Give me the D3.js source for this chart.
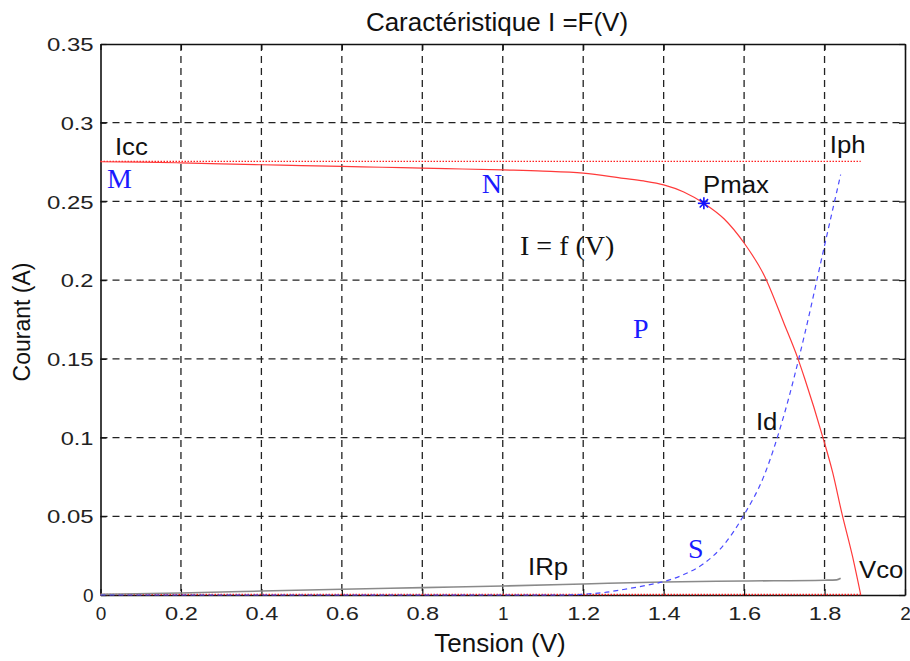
<!DOCTYPE html>
<html>
<head>
<meta charset="utf-8">
<script src="https://cdn.jsdelivr.net/npm/d3@7"></script>
<style>
  html, body { margin: 0; padding: 0; background: #fff; }
  svg { display: block; }
  text { font-family: "Liberation Sans", Arial, sans-serif; }
  .serif { font-family: "Liberation Serif", "Times New Roman", serif; }
</style>
</head>
<body>
<script>
// Tension (V) and courant (A) of the I = f(V) characteristic
const ivVolt = [0, 0.1, 0.2, 0.3, 0.4, 0.5, 0.6, 0.7, 0.8, 0.9, 1.0, 1.1, 1.2, 1.3, 1.35, 1.4, 1.45, 1.5, 1.55, 1.6, 1.65, 1.7, 1.734, 1.75, 1.796, 1.82, 1.843, 1.87, 1.89];
const ivCurr = [0.2752, 0.2750, 0.2745, 0.2738, 0.2733, 0.2728, 0.2723, 0.2717, 0.2712, 0.2706, 0.2700, 0.2693, 0.2680, 0.2647, 0.2630, 0.2605, 0.2560, 0.2488, 0.2390, 0.2236, 0.2030, 0.1720, 0.1500, 0.1380, 0.1000, 0.0780, 0.0520, 0.0240, 0.0000];

// Diode current Id
const idVolt = [0, 0.5, 1.0, 1.15, 1.2, 1.25, 1.3, 1.35, 1.4, 1.45, 1.5, 1.55, 1.6, 1.65, 1.7, 1.75, 1.8, 1.84];
const idCurr = [0, 0, 0, 0, 0.0005, 0.0015, 0.0035, 0.0058, 0.0085, 0.0130, 0.0200, 0.0320, 0.0510, 0.0760, 0.1150, 0.1650, 0.2220, 0.2670];

// Current through the parallel resistance IRp
const rpVolt = [0, 0.2, 0.4, 0.6, 0.8, 1.0, 1.2, 1.4, 1.6, 1.8, 1.83, 1.84];
const rpCurr = [0.0004, 0.0013, 0.0025, 0.0037, 0.0047, 0.0057, 0.0070, 0.0083, 0.0089, 0.0094, 0.0096, 0.0106];

// Short-circuit current Icc and open-circuit voltage Vco
const icc = 0.2755;
const vco = 1.89;

// Maximum power point
const pmax = { v: 1.5, i: 0.2488 };

// Axis ticks
const xTicks = [0, 0.2, 0.4, 0.6, 0.8, 1, 1.2, 1.4, 1.6, 1.8, 2];
const xTickLabels = ["0", "0.2", "0.4", "0.6", "0.8", "1", "1.2", "1.4", "1.6", "1.8", "2"];
const yTicks = [0, 0.05, 0.1, 0.15, 0.2, 0.25, 0.3, 0.35];
const yTickLabels = ["0", "0.05", "0.1", "0.15", "0.2", "0.25", "0.3", "0.35"];

// Curve annotations: [text, tension, courant]
const plainNotes = [["Icc", 0.036, 0.2795], ["Iph", 1.813, 0.2808], ["Pmax", 1.498, 0.2554],
                    ["Id", 1.6295, 0.1048], ["IRp", 1.063, 0.0127], ["Vco", 1.8856, 0.0108]];
const pointNotes = [["M", 0.016, 0.2586], ["N", 0.948, 0.2554], ["P", 1.3238, 0.1633], ["S", 1.4605, 0.0235]];
const formulaNote = ["I = f (V)", 1.043, 0.2160];

const W = 910, H = 661;
const svg = d3.select("body").append("svg").attr("width", W).attr("height", H);
svg.append("rect").attr("width", W).attr("height", H).attr("fill", "#fff");

const x = d3.scaleLinear().domain([0, 2]).range([100.5, 905]);
const y = d3.scaleLinear().domain([0, 0.35]).range([595, 44]);

// widen text by a factor
function stretch(sel, factor) {
  sel.each(function () {
    const w = this.getComputedTextLength();
    d3.select(this).attr("textLength", w * factor).attr("lengthAdjust", "spacingAndGlyphs");
  });
}
// widen multi-character labels by a fixed amount per character gap
function widen(sel, gap) {
  sel.each(function () {
    const t = this.textContent;
    if (t.length < 2) return;
    const w = this.getComputedTextLength();
    d3.select(this).attr("textLength", w + (t.length - 1) * gap).attr("lengthAdjust", "spacingAndGlyphs");
  });
}

// grid
const grid = svg.append("g").attr("stroke", "#222").attr("stroke-width", 1.3).attr("stroke-dasharray", "7,5");
grid.selectAll("line.v").data(xTicks.slice(1, -1)).join("line")
  .attr("x1", d => x(d)).attr("x2", d => x(d)).attr("y1", y(0.35)).attr("y2", y(0));
grid.selectAll("line.h").data(yTicks.slice(1, -1)).join("line")
  .attr("x1", x(0)).attr("x2", x(2)).attr("y1", d => y(d)).attr("y2", d => y(d));

// axes with inward ticks on all four sides
const axB = svg.append("g").attr("transform", `translate(0,${y(0)})`)
  .call(d3.axisBottom(x).tickValues(xTicks).tickSizeInner(-6).tickSizeOuter(0).tickFormat((d, i) => xTickLabels[i]));
const axT = svg.append("g").attr("transform", `translate(0,${y(0.35)})`)
  .call(d3.axisTop(x).tickValues(xTicks).tickSizeInner(-6).tickSizeOuter(0).tickFormat(""));
const axL = svg.append("g").attr("transform", `translate(${x(0)},0)`)
  .call(d3.axisLeft(y).tickValues(yTicks).tickSizeInner(-6).tickSizeOuter(0).tickFormat((d, i) => yTickLabels[i]));
const axR = svg.append("g").attr("transform", `translate(${x(2)},0)`)
  .call(d3.axisRight(y).tickValues(yTicks).tickSizeInner(-6).tickSizeOuter(0).tickFormat(""));
[axB, axT, axL, axR].forEach(a => {
  a.select(".domain").attr("stroke", "#111").attr("stroke-width", 1.6);
  a.selectAll(".tick line").attr("stroke", "#111").attr("stroke-width", 1.2);
});
axB.selectAll(".tick text").attr("font-size", 19).attr("fill", "#222").attr("font-family", "Liberation Sans, Arial, sans-serif")
  .attr("y", 0).attr("dy", 0).attr("transform", "translate(0,25)").call(widen, 3.2);
axL.selectAll(".tick text").attr("font-size", 19).attr("fill", "#222").attr("font-family", "Liberation Sans, Arial, sans-serif")
  .attr("x", -7).attr("dy", "0.35em").call(widen, 3.2);

// title and axis labels
svg.append("text").attr("x", 497).attr("y", 31).attr("text-anchor", "middle")
  .attr("font-size", 26).attr("fill", "#111").text("Caractéristique I =F(V)");
svg.append("text").attr("x", 500).attr("y", 652).attr("text-anchor", "middle")
  .attr("font-size", 26).attr("fill", "#111").text("Tension (V)");
svg.append("text").attr("transform", "translate(30,322) rotate(-90)").attr("text-anchor", "middle")
  .attr("font-size", 23).attr("fill", "#111").text("Courant (A)");

const plot = svg.append("g");

// Icc level (dotted) and zero-current reference
plot.append("line").attr("x1", x(0)).attr("x2", x(vco)).attr("y1", y(icc)).attr("y2", y(icc))
  .attr("stroke", "#ff2020").attr("stroke-width", 1.2).attr("stroke-dasharray", "1.5,1.5");
plot.append("line").attr("x1", x(0)).attr("x2", x(vco)).attr("y1", y(0) - 0.5).attr("y2", y(0) - 0.5)
  .attr("stroke", "#ff2020").attr("stroke-width", 1.5).attr("stroke-dasharray", "1.5,1.5");

const line = d3.line().x(d => x(d[0])).y(d => y(d[1])).curve(d3.curveMonotoneX);

// IRp
plot.append("path").datum(d3.zip(rpVolt, rpCurr)).attr("d", line)
  .attr("fill", "none").attr("stroke", "#8a8a8a").attr("stroke-width", 1.6);

// Id
plot.append("path").datum(d3.zip(idVolt, idCurr)).attr("d", line)
  .attr("fill", "none").attr("stroke", "#4b4bff").attr("stroke-width", 1.2).attr("stroke-dasharray", "5,4");

// I = f(V)
plot.append("path").datum(d3.zip(ivVolt, ivCurr)).attr("d", line)
  .attr("fill", "none").attr("stroke", "#ff3a3a").attr("stroke-width", 1.2);

// Pmax marker (asterisk)
const r = 6;
const star = plot.append("g").attr("transform", `translate(${x(pmax.v)},${y(pmax.i)})`)
  .attr("stroke", "#1010ff").attr("stroke-width", 1.6);
[[0, -r, 0, r], [-r, 0, r, 0], [-r * 0.7, -r * 0.7, r * 0.7, r * 0.7], [-r * 0.7, r * 0.7, r * 0.7, -r * 0.7]]
  .forEach(s => star.append("line").attr("x1", s[0]).attr("y1", s[1]).attr("x2", s[2]).attr("y2", s[3]));

// annotations
svg.selectAll("text.note").data(plainNotes).join("text").attr("class", "note")
  .attr("x", d => x(d[1])).attr("y", d => y(d[2]))
  .attr("font-size", 23).attr("fill", "#111").text(d => d[0]).call(stretch, 1.12);
svg.selectAll("text.pt").data(pointNotes).join("text").attr("class", "pt serif")
  .attr("x", d => x(d[1])).attr("y", d => y(d[2]))
  .attr("font-size", 28).attr("fill", "#1a1aff").text(d => d[0]);
svg.append("text").attr("class", "serif")
  .attr("x", x(formulaNote[1])).attr("y", y(formulaNote[2]))
  .attr("font-size", 28).attr("fill", "#111").text(formulaNote[0]);
</script>
</body>
</html>
